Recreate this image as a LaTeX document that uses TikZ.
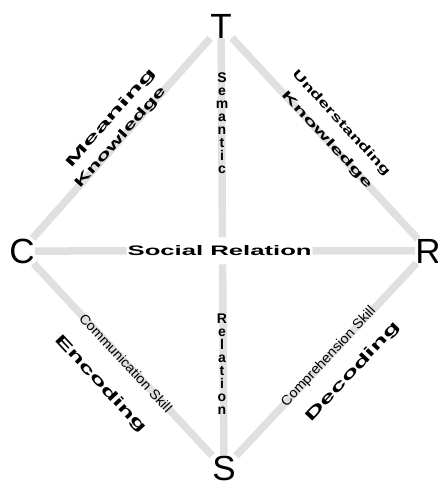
\documentclass[tikz,border=0pt]{standalone}
\usepackage{fontspec}
\usepackage{graphicx}
\setmainfont{Liberation Sans}
\usetikzlibrary{positioning}
\definecolor{bandgray}{gray}{0.88}
\newcommand{\fitto}[3]{\resizebox{#1}{#2}{#3}}
\tikzset{corner/.style={inner sep=0pt, font=\fontsize{35}{35}\selectfont},
band/.style={draw=bandgray, line width=7.5pt},
lbl/.style={inner sep=0pt, sloped, font=\bfseries},
thin lbl/.style={inner sep=0pt, sloped},
stack/.style={inner sep=0pt, align=center, anchor=north, font=\bfseries\fontsize{14}{13}\selectfont}
}

\begin{document}
\begin{tikzpicture}[x=1pt, y=-1pt, on grid]
            \useasboundingbox (0,0) rectangle (437,482);
            \node[corner] (T) at (221,26) {T};
            \node[corner] (C) [below left=225pt and 199pt of T] {C};
            \node[corner] (R) [below right=225pt and 207pt of T] {R};
            \node[corner] (S) [below right=442pt and 3pt of T] {S};
            % vertical and horizontal bars
            \draw[band] ([shift={(1,31)}]T) -- ([shift={(-2,-24)}]S);
            \node[stack] (sem) at (222,73) {S\\e\\m\\a\\n\\t\\i\\c};
            \node[stack] (rel) at (222,314) {R\\e\\l\\a\\t\\i\\o\\n};
            \draw[band] ([shift={(26,-1)}]C) -- ([shift={(-21,-1)}]R)
                node[lbl, pos=0.486, fill=white, inner xsep=1pt, minimum height=27pt] (soc) {\fitto{184pt}{10pt}{Social Relation}};
            % sides of the diamond
            \draw[band] ([shift={(-11,2)}]T) -- ([shift={(3,-29)}]C)
                node[lbl, pos=0.5, yshift=1pt] (knowC) {\fitto{130pt}{10pt}{Knowledge}}
                node[lbl, pos=0.47, yshift=21pt] (mean) {\fitto{128pt}{10pt}{Meaning}};
            \draw[band] ([shift={(18,1)}]T) -- ([shift={(-9,-29)}]R)
                node[lbl, pos=0.51] (knowR) {\fitto{127pt}{9pt}{Knowledge}}
                node[lbl, pos=0.5, yshift=22pt] (under) {\fitto{138pt}{9pt}{Understanding}};
            \draw[band] ([shift={(10,18)}]C) -- ([shift={(-16,-5)}]S)
                node[thin lbl, pos=0.517] (comm) {\fitto{129pt}{10pt}{Communication Skill}}
                node[lbl, pos=0.51, yshift=-33pt] (enc) {\fitto{127pt}{11pt}{Encoding}};
            \draw[band] ([shift={(-8,19)}]R) -- ([shift={(15,-6)}]S)
                node[thin lbl, pos=0.486] (comp) {\fitto{131pt}{10pt}{Comprehension Skill}}
                node[lbl, pos=0.465, yshift=-28pt] (dec) {\fitto{130pt}{11pt}{Decoding}};
        \end{tikzpicture}
\end{document}
